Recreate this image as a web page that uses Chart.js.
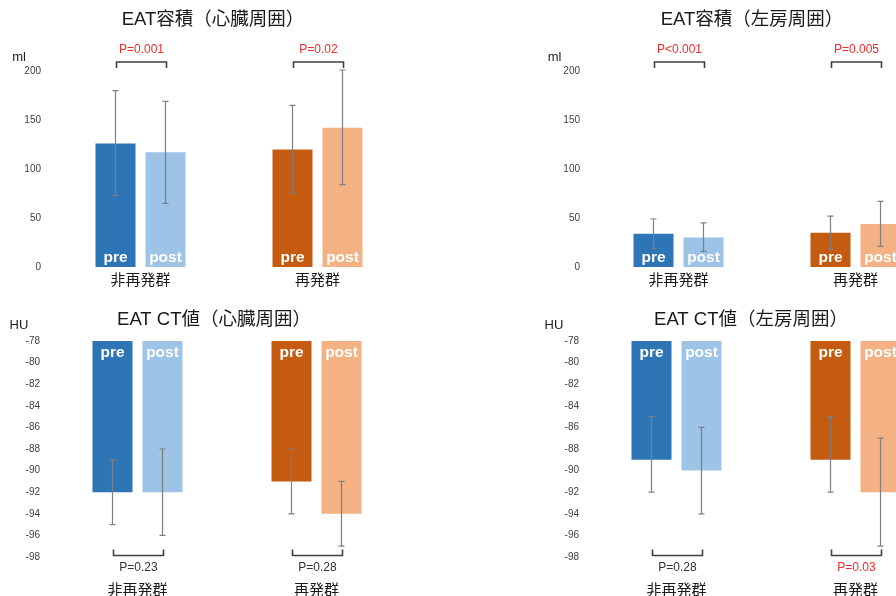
<!DOCTYPE html>
<html>
<head>
<meta charset="utf-8">
<script src="https://cdn.jsdelivr.net/npm/chart.js@4.4.1/dist/chart.umd.min.js"></script>
<style>
  html, body { margin: 0; padding: 0; background: #fff; overflow: hidden; width: 896px; height: 596px; }
  canvas { position: absolute; }
</style>
</head>
<body>
<canvas id="volHeart" width="448" height="298" style="left:0;top:0"></canvas>
<canvas id="volLA" width="500" height="298" style="left:448px;top:0"></canvas>
<canvas id="ctHeart" width="448" height="298" style="left:0;top:298px"></canvas>
<canvas id="ctLA" width="500" height="298" style="left:448px;top:298px"></canvas>
<script>
var groups = ['非再発群', '再発群'];

// EAT volume around the heart (ml)
var volHeartPre = [126, 120];
var volHeartPost = [117, 142];
var volHeartPreErr = [[73, 180], [75, 165]];
var volHeartPostErr = [[65, 169], [84, 201]];
var volHeartP = ['P=0.001', 'P=0.02'];

// EAT volume around the left atrium (ml)
var volLAPre = [34, 35];
var volLAPost = [30, 44];
var volLAPreErr = [[19, 49], [18, 52]];
var volLAPostErr = [[16, 45], [21, 67]];
var volLAP = ['P<0.001', 'P=0.005'];

// EAT CT value around the heart (HU)
var ctHeartPre = [-92, -91];
var ctHeartPost = [-92, -94];
var ctHeartPreErr = [[-95, -89], [-94, -88]];
var ctHeartPostErr = [[-96, -88], [-97, -91]];
var ctHeartP = ['P=0.23', 'P=0.28'];

// EAT CT value around the left atrium (HU)
var ctLAPre = [-89, -89];
var ctLAPost = [-90, -92];
var ctLAPreErr = [[-92, -85], [-92, -85]];
var ctLAPostErr = [[-94, -86], [-97, -87]];
var ctLAP = ['P=0.28', 'P=0.03'];

// y axis: min, max, step
var volTicks = [0, 200, 50];
var ctTicks = [-98, -78, 2];

var FONT = '"Liberation Sans", "Noto Sans CJK JP", sans-serif';
Chart.defaults.font.family = FONT;

// error bars, pre/post labels, p-value brackets, title and unit
var extras = {
    id: 'extras',
    afterDatasetsDraw: function (chart, args, opt) {
        var ctx = chart.ctx, y = chart.scales.y, area = chart.chartArea;
        var pre = chart.getDatasetMeta(0).data, post = chart.getDatasetMeta(1).data;
        ctx.save();

        ctx.textAlign = 'center';
        ctx.textBaseline = 'middle';
        ctx.fillStyle = '#fff';
        ctx.font = 'bold 15.5px ' + FONT;
        var ly = opt.below ? area.top + 12 : area.bottom - 9;
        chart.data.datasets.forEach(function (ds, di) {
            chart.getDatasetMeta(di).data.forEach(function (bar) {
                ctx.fillText(ds.label, bar.x, ly);
            });
        });

        ctx.strokeStyle = '#7f7f7f';
        ctx.lineWidth = 1.2;
        chart.data.datasets.forEach(function (ds, di) {
            chart.getDatasetMeta(di).data.forEach(function (bar, i) {
                var y1 = y.getPixelForValue(ds.err[i][0]);
                var y2 = y.getPixelForValue(ds.err[i][1]);
                ctx.beginPath();
                ctx.moveTo(bar.x, y1); ctx.lineTo(bar.x, y2);
                ctx.moveTo(bar.x - 3, y1); ctx.lineTo(bar.x + 3, y1);
                ctx.moveTo(bar.x - 3, y2); ctx.lineTo(bar.x + 3, y2);
                ctx.stroke();
            });
        });

        ctx.font = '12px ' + FONT;
        ctx.strokeStyle = '#404040';
        ctx.lineWidth = 1.6;
        opt.p.forEach(function (txt, i) {
            var x1 = pre[i].x + 1, x2 = post[i].x + 1;
            var by, ty;
            ctx.beginPath();
            if (opt.below) {
                by = area.bottom - 1.5;
                ctx.moveTo(x1, by - 6); ctx.lineTo(x1, by); ctx.lineTo(x2, by); ctx.lineTo(x2, by - 6);
                ty = by + 12.5;
            } else {
                by = area.top - 9;
                ctx.moveTo(x1, by + 6); ctx.lineTo(x1, by); ctx.lineTo(x2, by); ctx.lineTo(x2, by + 6);
                ty = by - 12;
            }
            ctx.stroke();
            ctx.fillStyle = parseFloat(txt.slice(2)) < 0.05 ? '#ee2c2c' : '#333';
            ctx.fillText(txt, (x1 + x2) / 2, ty);
        });

        ctx.fillStyle = '#1a1a1a';
        ctx.font = '18.5px ' + FONT;
        ctx.fillText(opt.title, opt.titleX, opt.titleY);
        ctx.font = '13px ' + FONT;
        ctx.fillText(opt.unit, opt.unitX, opt.unitY);
        ctx.restore();
    }
};

function makeChart(id, pre, post, preErr, postErr, ticks, box, notes) {
    return new Chart(document.getElementById(id), {
        type: 'bar',
        data: {
            labels: groups,
            datasets: [{
                label: 'pre',
                data: pre,
                err: preErr,
                backgroundColor: ['#2E75B6', '#C55A11']
            }, {
                label: 'post',
                data: post,
                err: postErr,
                backgroundColor: ['#9DC3E6', '#F4B183']
            }]
        },
        options: {
            responsive: false,
            animation: false,
            devicePixelRatio: 1,
            datasets: { bar: { categoryPercentage: box.cat, barPercentage: 0.8 } },
            layout: { padding: box.pad },
            scales: {
                x: {
                    grid: { display: false, drawTicks: false },
                    border: { display: false },
                    ticks: { padding: box.xPad, color: '#1a1a1a', font: { size: 15 } },
                    afterFit: function (s) { s.height = box.xH; }
                },
                y: {
                    min: ticks[0],
                    max: ticks[1],
                    grid: { display: false, drawTicks: false },
                    border: { display: false },
                    ticks: { stepSize: ticks[2], padding: box.yPad, color: '#404040', font: { size: 10 } },
                    afterFit: function (s) { s.width = box.yW; }
                }
            },
            plugins: {
                legend: { display: false },
                tooltip: { enabled: false },
                extras: notes
            }
        },
        plugins: [extras]
    });
}

makeChart('volHeart', volHeartPre, volHeartPost, volHeartPreErr, volHeartPostErr, volTicks,
    { pad: { left: 0, right: 42, top: 71, bottom: 0 }, yW: 52, yPad: 11, xH: 31, xPad: 5, cat: 100 / 177 },
    { p: volHeartP, below: false, title: 'EAT容積（心臓周囲）', titleX: 213, titleY: 20, unit: 'ml', unitX: 19, unitY: 57 });

makeChart('volLA', volLAPre, volLAPost, volLAPreErr, volLAPostErr, volTicks,
    { pad: { left: 92, right: 4, top: 71, bottom: 0 }, yW: 50, yPad: 10, xH: 31, xPad: 5, cat: 100 / 177 },
    { p: volLAP, below: false, title: 'EAT容積（左房周囲）', titleX: 304, titleY: 20, unit: 'ml', unitX: 106.5, unitY: 57 });

makeChart('ctHeart', ctHeartPre, ctHeartPost, ctHeartPreErr, ctHeartPostErr, ctTicks,
    { pad: { left: 0, right: 42, top: 43, bottom: 0 }, yW: 48, yPad: 8, xH: 39, xPad: 24.5, cat: 100 / 179 },
    { p: ctHeartP, below: true, title: 'EAT CT値（心臓周囲）', titleX: 214, titleY: 22, unit: 'HU', unitX: 19, unitY: 27 });

makeChart('ctLA', ctLAPre, ctLAPost, ctLAPreErr, ctLAPostErr, ctTicks,
    { pad: { left: 91, right: 3, top: 43, bottom: 0 }, yW: 48, yPad: 8, xH: 39, xPad: 24.5, cat: 100 / 179 },
    { p: ctLAP, below: true, title: 'EAT CT値（左房周囲）', titleX: 303, titleY: 22, unit: 'HU', unitX: 106, unitY: 27 });
</script>
</body>
</html>
